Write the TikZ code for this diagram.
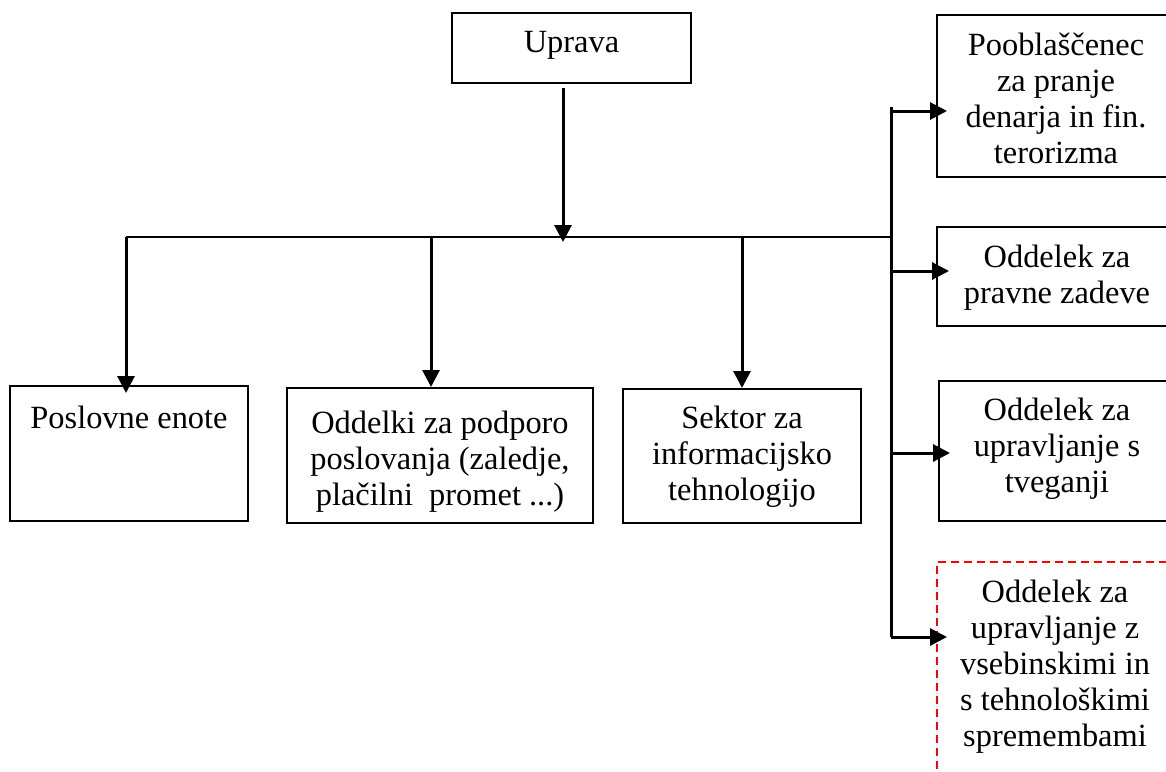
\documentclass[tikz,border=0pt]{standalone}
\usepackage{fontspec}
\setmainfont{Liberation Serif}
\usetikzlibrary{arrows.meta,fit}
\begin{document}
\begin{tikzpicture}[x=0.5pt,y=-0.5pt,
  box/.style={draw=black,line width=1pt,inner sep=0pt},
  riskbox/.style={draw=red,line width=1pt,dash pattern=on 4pt off 2.5pt,inner sep=0pt},
  boxtext/.style={anchor=north,inner sep=0pt,align=center,font=\fontsize{16.2pt}{18pt}\selectfont},
  link/.style={line width=1.5pt,-{Triangle[length=8.5pt,width=8.5pt]}},
  bus/.style={line width=1pt},
  trunk/.style={line width=1.5pt}]
\clip (0,0) rectangle (1166,771);

% top management
\node[box,fit={(452,13) (691,83)}] (uprava) {};
\node[boxtext] (upravaT) at (571.5,31) {Uprava};

% lower row
\node[box,fit={(10,386) (248,521)}] (poslovne) {};
\node[boxtext] (poslovneT) at (129,406) {Poslovne enote};
\node[box,fit={(287,388) (593,523)}] (podpora) {};
\node[boxtext] (podporaT) at (440,411) {Oddelki za podporo\\poslovanja (zaledje,\\plačilni\ \ promet ...)};
\node[box,fit={(623,389) (861,523)}] (sektor) {};
\node[boxtext] (sektorT) at (742,406) {Sektor za\\informacijsko\\tehnologijo};

% staff units on the right
\node[box,fit={(937,15) (1180,177)}] (aml) {};
\node[boxtext] (amlT) at (1056,33) {Pooblaščenec\\za pranje\\denarja in fin.\\terorizma};
\node[box,fit={(937,227) (1180,326)}] (pravne) {};
\node[boxtext] (pravneT) at (1057,245) {Oddelek za\\pravne zadeve};
\node[box,fit={(939,381) (1180,521)}] (tveg) {};
\node[boxtext] (tvegT) at (1057,398) {Oddelek za\\upravljanje s\\tveganji};
\node[riskbox,fit={(937,562) (1180,800)}] (spremembe) {};
\node[boxtext] (spremembeT) at (1055,580) {Oddelek za\\upravljanje z\\vsebinskimi in\\s tehnološkimi\\spremembami};

% distribution bus
\coordinate (busL) at (126,237);
\coordinate (busR) at (893,237);
\coordinate (b2) at (431,237);
\coordinate (b3) at (742,237);
\draw[bus] (busL) -- (busR);

\draw[link,shorten >=-2.5pt] ([xshift=-4.25pt,yshift=-2pt]uprava.south) -- ([xshift=-4.25pt]uprava.south |- busL);
\draw[link,shorten >=-4pt] (busL) -- (busL |- poslovne.north);
\draw[link] (b2) -- (b2 |- podpora.north);
\draw[link] (b3) -- (sektor.north);

% right trunk with branches
\coordinate (trunkT) at (891,107);
\coordinate (r1) at (891,111);
\coordinate (r2) at (891,271);
\coordinate (r3) at (891,453);
\coordinate (r4) at (891,637);
\draw[trunk] (trunkT) -- (r4);
\draw[link,shorten >=-5.5pt] (r1) -- (r1 -| aml.west);
\draw[link,shorten >=-6.5pt] (r2) -- (r2 -| pravne.west);
\draw[link,shorten >=-6pt] (r3) -- (r3 -| tveg.west);
\draw[link,shorten >=-5.5pt] (r4) -- (r4 -| spremembe.west);
\end{tikzpicture}
\end{document}
